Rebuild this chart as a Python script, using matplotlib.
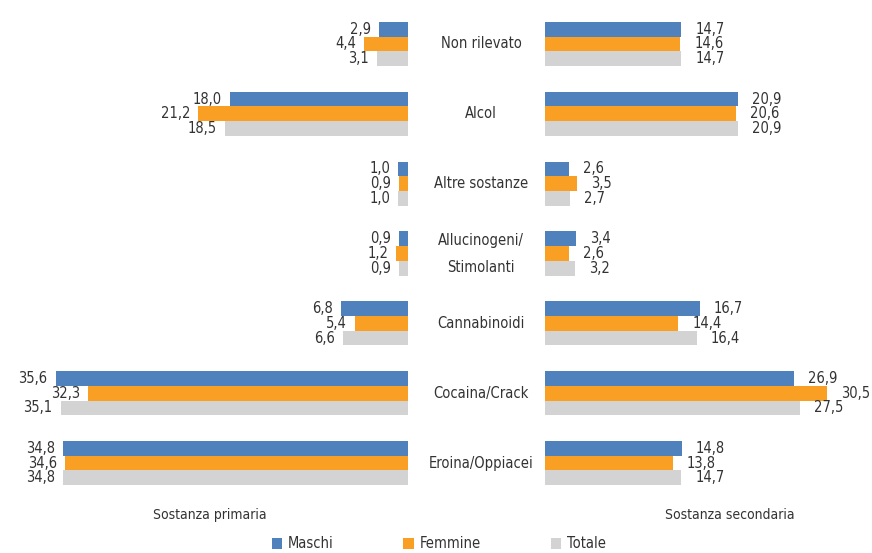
import matplotlib
matplotlib.use("Agg")
import matplotlib.pyplot as plt
import numpy as np

plt.rcParams['font.family'] = ['DejaVu Sans']
plt.rcParams['font.stretch'] = 'condensed'

categorie = ['Non rilevato', 'Alcol', 'Altre sostanze', 'Allucinogeni/\nStimolanti',
             'Cannabinoidi', 'Cocaina/Crack', 'Eroina/Oppiacei']
serie = ['Maschi', 'Femmine', 'Totale']
colori = ['#4F81BD', '#F9A024', '#D3D3D3']

# sostanza primaria
prim_maschi = [2.9, 18.0, 1.0, 0.9, 6.8, 35.6, 34.8]
prim_femmine = [4.4, 21.2, 0.9, 1.2, 5.4, 32.3, 34.6]
prim_totale = [3.1, 18.5, 1.0, 0.9, 6.6, 35.1, 34.8]

# sostanza secondaria
sec_maschi = [14.7, 20.9, 2.6, 3.4, 16.7, 26.9, 14.8]
sec_femmine = [14.6, 20.6, 3.5, 2.6, 14.4, 30.5, 13.8]
sec_totale = [14.7, 20.9, 2.7, 3.2, 16.4, 27.5, 14.7]

fig = plt.figure(figsize=(8.72, 5.53), dpi=100)
W, H = 872, 553
top, bot = 9, 498
axL = fig.add_axes([12 / W, 1 - bot / H, 396 / W, (bot - top) / H])
axR = fig.add_axes([545 / W, 1 - bot / H, 324 / W, (bot - top) / H])

y = np.arange(len(categorie))
h = 0.21
offs = [-h, 0, h]


def fmt(v):
    return f"{v:.1f}".replace('.', ',')


for ax, dati, lato in [(axL, [prim_maschi, prim_femmine, prim_totale], 'L'),
                       (axR, [sec_maschi, sec_femmine, sec_totale], 'R')]:
    for k, (vals, col) in enumerate(zip(dati, colori)):
        ax.barh(y + offs[k], vals, height=h, color=col, label=serie[k])
        for yi, v in zip(y, vals):
            if lato == 'L':
                ax.annotate(fmt(v), (v, yi + offs[k]), xytext=(-8, 0), textcoords='offset pixels',
                            ha='right', va='center', fontsize=10.5, color='#333333')
            else:
                ax.annotate(fmt(v), (v, yi + offs[k]), xytext=(14, 0), textcoords='offset pixels',
                            ha='left', va='center', fontsize=10.5, color='#333333',
                            annotation_clip=False)
    ax.set_ylim(len(categorie) - 0.5, -0.5)
    for s in ax.spines.values():
        s.set_visible(False)
    ax.set_xticks([])
    ax.set_yticks([])

axL.set_xlim(40, 0)
axR.set_xlim(0, 35)

for yi, c in zip(y, categorie):
    axL.annotate(c, (0, yi), xytext=(73, 0), textcoords='offset pixels',
                 ha='center', va='center', fontsize=10.5, color='#333333',
                 linespacing=2.0, annotation_clip=False)

fig.text(210 / W, 1 - 515 / H, 'Sostanza primaria', ha='center', va='center', fontsize=10, color='#333333')
fig.text(730 / W, 1 - 515 / H, 'Sostanza secondaria', ha='center', va='center', fontsize=10, color='#333333')

handles, labels = axL.get_legend_handles_labels()
fig.legend(handles, labels, loc='center', bbox_to_anchor=(0.503, 1 - 544 / H), ncol=3,
           frameon=False, fontsize=10.5, handlelength=0.7, handleheight=0.7,
           columnspacing=4.8, handletextpad=0.4, labelcolor='#333333')

fig.savefig('out.png', dpi=100)
